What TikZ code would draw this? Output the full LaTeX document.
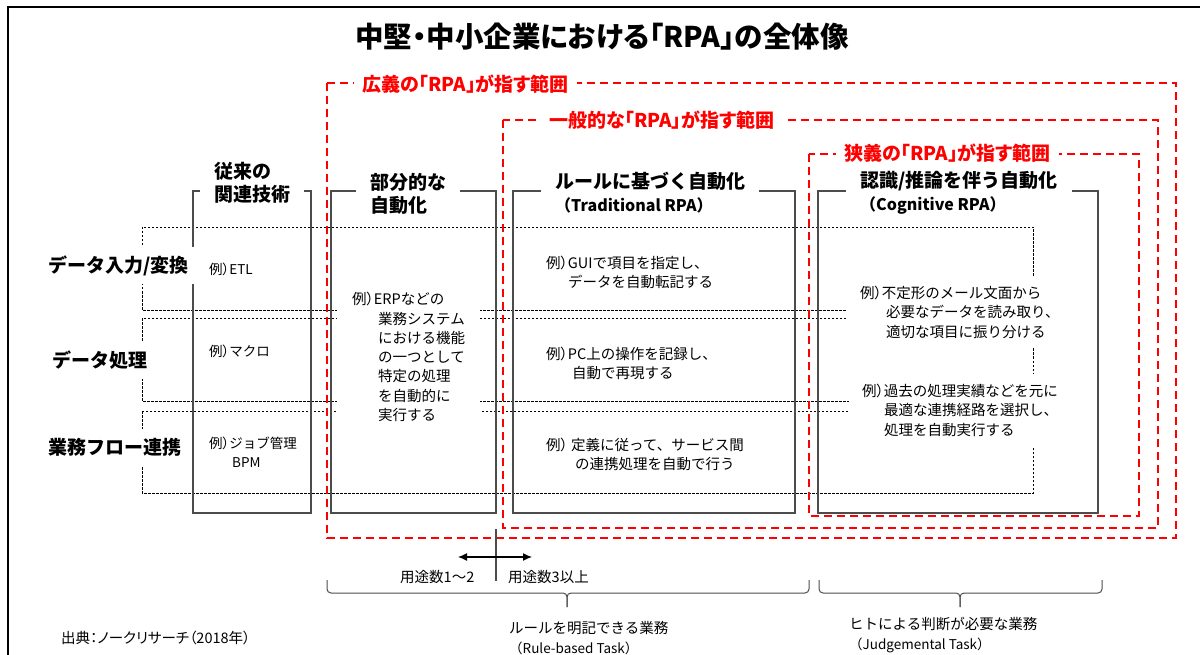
\documentclass[tikz,border=0pt]{standalone}
\usepackage{fontspec}
\setmainfont{Noto Sans CJK JP}
\newfontfamily\propjp{Noto Sans CJK JP}[RawFeature=+palt]
\usetikzlibrary{arrows.meta}
\newcommand{\rei}{例{\propjp ）}}

\begin{document}
\begin{tikzpicture}[x=1pt,y=-1pt,
          colbox/.style={draw=black!70,line width=1.1pt},
          rowbox/.style={draw=black,line width=0.7pt,dash pattern=on 2.5pt off 1.5pt},
          rangebox/.style={draw=red,line width=1.8pt,dash pattern=on 8pt off 5pt},
          rangelabel/.style={anchor=west,fill=white,text=red,inner xsep=8pt,inner ysep=1pt,%
            font=\propjp\fontsize{19}{22}\selectfont\bfseries},
          colhead/.style={anchor=west,fill=white,align=left,inner xsep=14pt,inner ysep=1pt,%
            font=\fontsize{19}{23}\selectfont\bfseries},
          rowhead/.style={anchor=west,fill=white,inner xsep=6pt,minimum height=37pt,%
            font=\fontsize{19}{23}\selectfont\bfseries},
          extext/.style={anchor=west,align=left,inner sep=0pt,font=\fontsize{14.5}{19.3}\selectfont},
          exfill/.style={extext,fill=white,inner xsep=14pt,inner ysep=10pt},
          subtext/.style={anchor=west,align=left,inner sep=0pt,font=\fontsize{14.5}{20}\selectfont},
          bracepath/.style={draw=black!70,line width=1pt,rounded corners=4pt},
          usearrow/.style={line width=1.2pt,{Latex[length=9pt,width=8pt]}-{Latex[length=9pt,width=8pt]}}]
          \useasboundingbox (0,0) rectangle (1200,655);
          \draw[line width=1.3pt] (8,655) -- (8,7) -- (1200,7);
          \node[font=\propjp\fontsize{28.5}{31}\selectfont\bfseries] (title) at (602,37)
            {中堅・中小企業における「RPA」の全体像};
          % rows
          \draw[rowbox] (142,227) rectangle (1033,310);
          \draw[rowbox] (142,318) rectangle (1033,401);
          \draw[rowbox] (142,411) rectangle (1033,493);
          % ranges
          \draw[rangebox] (327,83) rectangle (1176,538);
          \draw[rangebox] (503,120) rectangle (1158,528);
          \draw[rangebox] (809,154) rectangle (1139,516);
          \node[rangelabel] (wide) at (354,84) {広義の「RPA」が指す範囲};
          \node[rangelabel] (usual) at (541,120) {一般的な「RPA」が指す範囲};
          \node[rangelabel] (narrow) at (836,153) {狭義の「RPA」が指す範囲};
          % columns
          \draw[colbox] (193,191) rectangle (311,513);
          \draw[colbox] (331,191) rectangle (496,513);
          \draw[colbox] (513,191) rectangle (795,513);
          \draw[colbox] (818,191) rectangle (1098,513);
          \node[colhead] (legacy) at (200,182.5) {従来の\\関連技術};
          \node[colhead] (partial) at (356,194) {部分的な\\自動化};
          \node[colhead] (rulebased) at (541,193)
            {ルールに基づく自動化\\{\fontsize{16}{20}\selectfont （Traditional RPA）}};
          \node[colhead] (cognitive) at (846,193)
            {認識/推論を伴う自動化\\{\fontsize{16}{20}\selectfont （Cognitive RPA）}};
          \node[rowhead] (input) at (42,266) {データ入力/変換};
          \node[rowhead] (process) at (46,360) {データ処理};
          \node[rowhead] (flow) at (42,447) {業務フロー連携};
          % examples
          \node[extext,font=\fontsize{13.5}{19}\selectfont] (etl) at (209,269) {\rei ETL};
          \node[extext,font=\fontsize{13.5}{19}\selectfont] (macro) at (209,351) {\rei マクロ};
          \node[extext,font=\fontsize{13.5}{19}\selectfont] (job) at (209,452.5)
            {\rei ジョブ管理\\\hspace*{23pt}BPM};
          \node[exfill,inner xsep=15pt] (erp) at (337,357)
            {\rei ERPなどの\\\hspace*{26pt}業務システム\\\hspace*{26pt}における機能\\%
             \hspace*{26pt}の一つとして\\\hspace*{26pt}特定の処理\\\hspace*{26pt}を自動的に\\%
             \hspace*{26pt}実行する};
          \node[extext] (gui) at (546,272.6)
            {\rei GUIで項目を指定し、\\\hspace*{22pt}データを自動転記する};
          \node[extext] (record) at (546,363.6)
            {\rei PC上の操作を記録し、\\\hspace*{26pt}自動で再現する};
          \node[extext] (define) at (546,454.6)
            {\rei\ 定義に従って、サービス間\\\hspace*{29pt}の連携処理を自動で行う};
          \node[exfill,inner xsep=13pt] (mail) at (847,312.3)
            {\rei 不定形のメール文面から\\\hspace*{26pt}必要なデータを読み取り、\\%
             \hspace*{26pt}適切な項目に振り分ける};
          \node[exfill,inner xsep=13pt] (route) at (849,410.3)
            {\rei 過去の処理実績などを元に\\\hspace*{22pt}最適な連携経路を選択し、\\%
             \hspace*{22pt}処理を自動実行する};
          % usage count
          \coordinate (splitTop) at (496,529);
          \coordinate (splitBot) at (496,581);
          \coordinate (fewL) at (458,557);
          \coordinate (fewR) at (532,557);
          \draw[draw=black!70,line width=1.2pt] (splitTop) -- (splitBot);
          \draw[usearrow] (fewL) -- (fewR);
          \node[subtext] (few) at (400,577) {用途数1〜2};
          \node[subtext] (many) at (508,577) {用途数3以上};
          % braces
          \draw[bracepath] (327,580) -- (327,593) -- (567,593) -- (567,607);
          \draw[bracepath] (809,580) -- (809,593) -- (567,593) -- (567,607);
          \draw[bracepath] (819,580) -- (819,593) -- (960,593) -- (960,607);
          \draw[bracepath] (1102,580) -- (1102,593) -- (960,593) -- (960,607);
          \node[subtext] (ruletask) at (509,638)
            {ルールを明記できる業務\\{\fontsize{13.5}{20}\selectfont （Rule-based Task）}};
          \node[subtext] (judgetask) at (849,635)
            {ヒトによる判断が必要な業務\\{\fontsize{13.5}{20}\selectfont （Judgemental Task）}};
          \node[subtext,font=\propjp\fontsize{14.5}{20}\selectfont] (source) at (61,638)
            {出典：ノークリサーチ（2018年）};
        \end{tikzpicture}
\end{document}
